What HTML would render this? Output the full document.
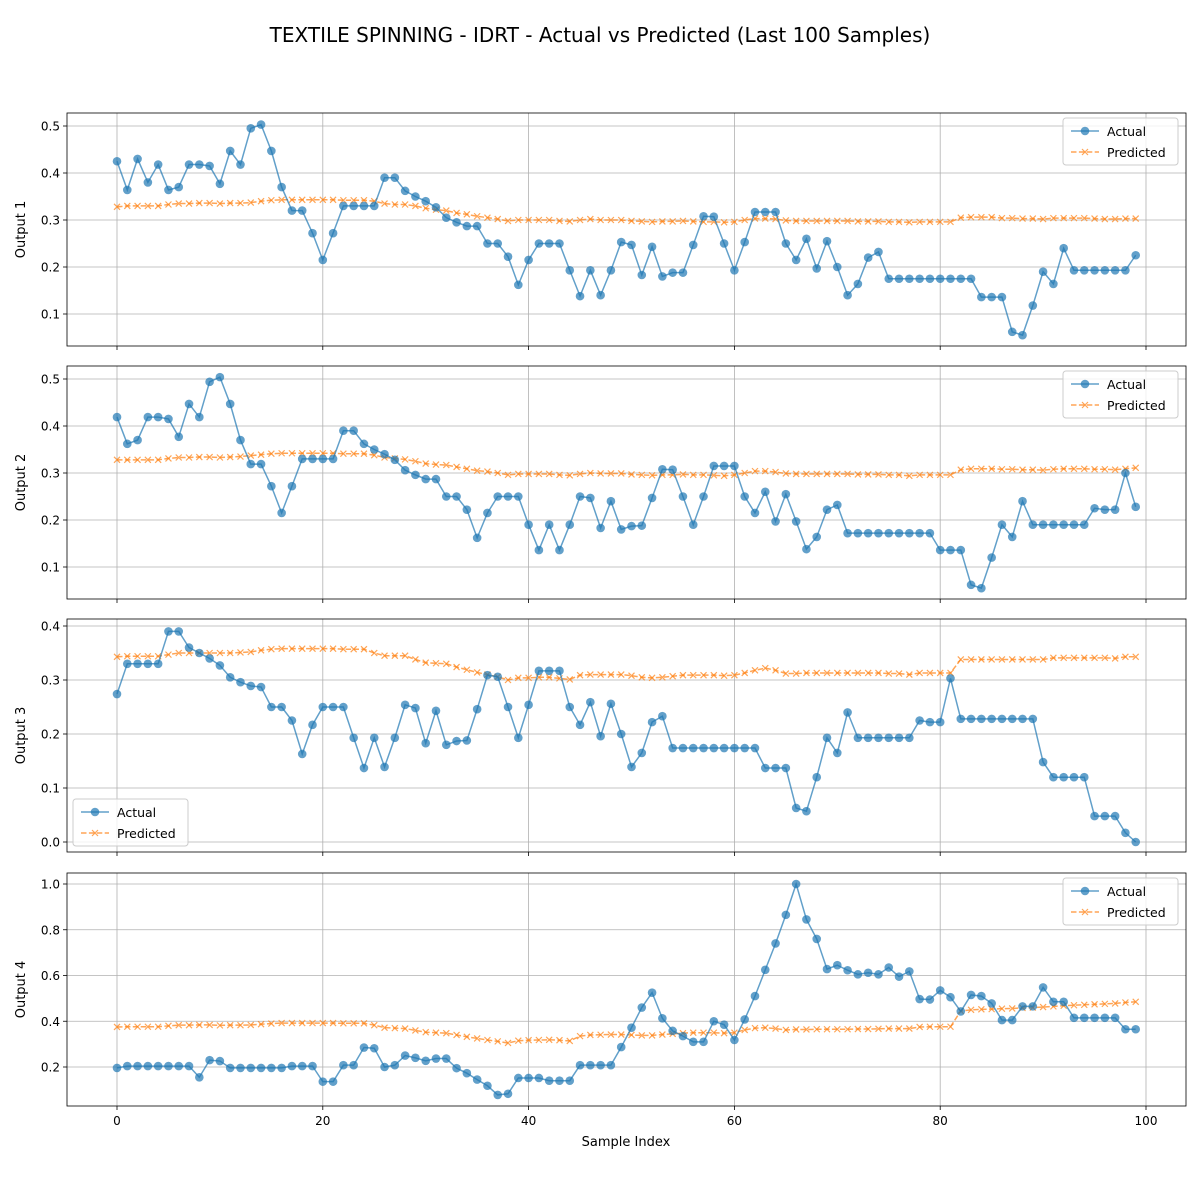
<!DOCTYPE html>
<html><head><meta charset="utf-8">
<style>
body{margin:0;background:#fff;}
svg{display:block;font-family:"DejaVu Sans","Liberation Sans",sans-serif;}
</style></head>
<body>
<svg id="fig" width="1200" height="1200" viewBox="0 0 1200 1200" xmlns="http://www.w3.org/2000/svg">
<rect width="1200" height="1200" fill="#fff"/>
<text x="600" y="42" text-anchor="middle" font-size="20" fill="#000">TEXTILE SPINNING - IDRT - Actual vs Predicted (Last 100 Samples)</text>
<text x="626" y="1146" text-anchor="middle" font-size="13" fill="#000">Sample Index</text>
</svg>
<script>
const xTicks = [0,20,40,60,80,100];
const a1 = [.425,.364,.43,.38,.418,.364,.37,.418,.418,.415,.377,.447,.418,.495,.503,.447,.37,.32,.32,.272,.215,.272,.33,.33,.33,.33,.39,.39,.362,.35,.34,.327,.305,.295,.287,.287,.25,.25,.222,.162,.215,.25,.25,.25,.193,.138,.193,.14,.193,.253,.247,.183,.243,.18,.188,.188,.247,.308,.307,.25,.193,.253,.317,.317,.317,.25,.215,.26,.197,.255,.2,.14,.164,.22,.232,.175,.175,.175,.175,.175,.175,.175,.175,.175,.136,.136,.136,.062,.055,.118,.19,.164,.24,.193,.193,.193,.193,.193,.193,.225];
const p1 = [.328,.33,.33,.33,.33,.333,.335,.335,.336,.336,.335,.336,.336,.337,.34,.342,.343,.343,.343,.343,.343,.343,.342,.342,.342,.34,.335,.333,.333,.33,.325,.322,.32,.315,.312,.308,.305,.302,.298,.3,.3,.3,.3,.298,.297,.3,.302,.3,.3,.3,.298,.297,.296,.297,.297,.298,.297,.296,.296,.295,.296,.3,.303,.303,.302,.299,.298,.298,.298,.298,.298,.298,.297,.297,.297,.296,.296,.295,.296,.296,.296,.296,.305,.306,.306,.306,.304,.304,.303,.303,.302,.304,.304,.304,.304,.303,.302,.302,.303,.303];
const a2 = [.419,.362,.37,.419,.419,.415,.377,.447,.419,.494,.504,.447,.37,.319,.319,.272,.215,.272,.33,.33,.33,.33,.39,.39,.362,.35,.34,.328,.306,.296,.287,.287,.25,.25,.222,.162,.215,.25,.25,.25,.19,.136,.19,.136,.19,.25,.247,.183,.24,.18,.187,.188,.247,.308,.307,.25,.19,.25,.315,.315,.315,.25,.215,.26,.197,.255,.197,.138,.164,.222,.232,.172,.172,.172,.172,.172,.172,.172,.172,.172,.136,.136,.136,.062,.055,.12,.19,.164,.24,.19,.19,.19,.19,.19,.19,.225,.222,.222,.3,.228];
const p2 = [.328,.328,.328,.328,.328,.331,.333,.333,.334,.334,.333,.334,.335,.337,.339,.341,.342,.342,.342,.342,.342,.342,.341,.341,.341,.338,.333,.331,.329,.325,.32,.318,.317,.313,.309,.305,.303,.3,.296,.298,.298,.298,.298,.296,.295,.298,.3,.299,.299,.299,.297,.296,.295,.296,.296,.297,.296,.296,.295,.294,.296,.3,.304,.304,.302,.299,.298,.298,.298,.298,.298,.298,.297,.297,.297,.296,.296,.294,.296,.296,.296,.296,.307,.309,.309,.309,.308,.308,.307,.307,.306,.308,.309,.309,.309,.308,.308,.307,.309,.311];
const a3 = [.274,.33,.33,.33,.33,.39,.39,.36,.35,.34,.327,.305,.296,.289,.287,.25,.25,.225,.163,.217,.25,.25,.25,.193,.137,.193,.139,.193,.254,.248,.183,.243,.18,.187,.188,.246,.309,.306,.25,.193,.254,.317,.317,.317,.25,.217,.259,.196,.256,.2,.139,.165,.222,.233,.174,.174,.174,.174,.174,.174,.174,.174,.174,.137,.137,.137,.063,.057,.12,.193,.165,.24,.193,.193,.193,.193,.193,.193,.225,.222,.222,.303,.228,.228,.228,.228,.228,.228,.228,.228,.148,.12,.12,.12,.12,.048,.048,.048,.017,0];
const p3 = [.343,.344,.344,.344,.344,.347,.35,.35,.35,.35,.35,.35,.351,.352,.355,.357,.358,.358,.358,.358,.358,.358,.357,.357,.357,.35,.345,.345,.345,.338,.332,.331,.33,.324,.319,.314,.31,.306,.3,.304,.304,.305,.305,.303,.301,.309,.31,.31,.31,.31,.308,.305,.304,.305,.307,.309,.309,.309,.309,.308,.309,.313,.318,.322,.318,.312,.312,.313,.313,.313,.313,.313,.313,.313,.313,.312,.312,.31,.313,.313,.313,.313,.338,.338,.338,.338,.338,.338,.338,.338,.338,.341,.341,.341,.341,.341,.341,.34,.343,.343];
const a4 = [.196,.204,.204,.204,.204,.204,.204,.204,.155,.23,.226,.196,.196,.196,.196,.196,.196,.204,.204,.204,.136,.136,.208,.208,.285,.282,.2,.208,.25,.24,.227,.237,.237,.195,.173,.145,.118,.078,.083,.152,.152,.152,.14,.14,.14,.208,.208,.208,.208,.287,.372,.46,.525,.413,.358,.335,.31,.31,.4,.385,.318,.408,.51,.625,.74,.865,1.0,.845,.76,.628,.645,.623,.605,.612,.605,.635,.595,.618,.497,.495,.535,.505,.443,.515,.51,.478,.405,.405,.465,.465,.548,.485,.485,.415,.415,.415,.415,.415,.365,.365];
const p4 = [.375,.376,.376,.376,.376,.38,.383,.383,.384,.384,.382,.383,.383,.384,.387,.39,.392,.392,.392,.392,.392,.392,.391,.391,.391,.383,.372,.37,.368,.36,.352,.35,.348,.34,.332,.325,.318,.312,.305,.315,.317,.318,.319,.317,.314,.335,.34,.341,.342,.342,.34,.338,.338,.342,.345,.348,.35,.35,.35,.348,.35,.362,.37,.372,.368,.362,.364,.364,.365,.365,.365,.365,.366,.366,.367,.368,.368,.368,.375,.376,.376,.376,.445,.45,.452,.453,.455,.456,.458,.46,.462,.465,.468,.47,.472,.474,.476,.478,.482,.485];
const yTicks1 = [0.1,0.2,0.3,0.4,0.5];
const yTicks2 = [0.1,0.2,0.3,0.4,0.5];
const yTicks3 = [0.0,0.1,0.2,0.3,0.4];
const yTicks4 = [0.2,0.4,0.6,0.8,1.0];
const yLabels1 = ["0.1","0.2","0.3","0.4","0.5"];
const yLabels3 = ["0.0","0.1","0.2","0.3","0.4"];
const yLabels4 = ["0.2","0.4","0.6","0.8","1.0"];

const NS="http://www.w3.org/2000/svg";
const svg=document.getElementById('fig');
function mk(tag,attrs,parent){const e=document.createElementNS(NS,tag);for(const k in attrs)e.setAttribute(k,attrs[k]);(parent||svg).appendChild(e);return e;}
const L=67,R=1186;
const xS=v=>117+v*10.29;
const panels=[
 {top:113,bot:346,v0:0.5,y0:126,v1:0.1,y1:314,a:a1,p:p1,ticks:yTicks1,labels:yLabels1,name:"Output 1",leg:"ur"},
 {top:366,bot:599,v0:0.5,y0:379,v1:0.1,y1:567,a:a2,p:p2,ticks:yTicks2,labels:yLabels1,name:"Output 2",leg:"ur"},
 {top:619,bot:852,v0:0.4,y0:626,v1:0.0,y1:842,a:a3,p:p3,ticks:yTicks3,labels:yLabels3,name:"Output 3",leg:"ll"},
 {top:873,bot:1106,v0:1.0,y0:884,v1:0.2,y1:1067,a:a4,p:p4,ticks:yTicks4,labels:yLabels4,name:"Output 4",leg:"ur"}
];
panels.forEach((P,pi)=>{
 const yS=v=>P.y0+(P.v0-v)*(P.y1-P.y0)/(P.v0-P.v1);
 const g=mk('g',{});
 
 
 xTicks.forEach(t=>{const x=xS(t);if(x<L||x>R)return;
  const l=mk('line',{x1:x,x2:x,y1:P.top,y2:P.bot,stroke:'#b0b0b0','stroke-width':0.8},g);
  
  const tk=mk('line',{x1:x,x2:x,y1:P.bot,y2:P.bot+4,stroke:'#000','stroke-width':0.8},g);
  
  if(pi===3){const tx=mk('text',{x:x,y:P.bot+19,'text-anchor':'middle','font-size':12},g);tx.textContent=String(t);
   }
 });
 P.ticks.forEach((t,i)=>{const y=yS(t);
  const l=mk('line',{x1:L,x2:R,y1:y,y2:y,stroke:'#b0b0b0','stroke-width':0.8},g);
  
  const tk=mk('line',{x1:L-4,x2:L,y1:y,y2:y,stroke:'#000','stroke-width':0.8},g);
  
  const tx=mk('text',{x:L-7,y:y+4.5,'text-anchor':'end','font-size':12},g);tx.textContent=P.labels[i];
  
 });
 const yl=mk('text',{x:0,y:0,'text-anchor':'middle','font-size':13,transform:`translate(25,${(P.top+P.bot)/2}) rotate(-90)`},g);
 yl.textContent=P.name;
 
 const pp=mk('polyline',{points:P.p.map((v,i)=>xS(i)+','+yS(v)).join(' '),fill:'none',stroke:'#ff7f0e','stroke-opacity':0.7,'stroke-width':1.5,'stroke-dasharray':'5.5,2.4'},g);
 
 P.p.forEach((v,i)=>{const x=xS(i),y=yS(v),s=3;
  const m=mk('path',{d:`M${x-s},${y-s}L${x+s},${y+s}M${x-s},${y+s}L${x+s},${y-s}`,stroke:'#ff7f0e','stroke-opacity':0.7,'stroke-width':1.2},g);
  });
 const ap=mk('polyline',{points:P.a.map((v,i)=>xS(i)+','+yS(v)).join(' '),fill:'none',stroke:'#1f77b4','stroke-opacity':0.7,'stroke-width':1.5},g);
 
 P.a.forEach((v,i)=>{
  const c=mk('circle',{cx:xS(i),cy:yS(v),r:4.3,fill:'#1f77b4','fill-opacity':0.7},g);
  });
 const fr=mk('rect',{x:L,y:P.top,width:R-L,height:P.bot-P.top,fill:'none',stroke:'#000','stroke-width':0.8},g);
 
 const lx=P.leg==='ur'?1063:73, ly=P.leg==='ur'?P.top+5:799;
 const lg=mk('g',{},g);
 
 mk('rect',{x:lx,y:ly,width:115,height:47,rx:3,fill:'#fff','fill-opacity':0.8,stroke:'#ccc'},lg);
 const e1=mk('g',{},lg);
 
 mk('line',{x1:lx+8,x2:lx+36,y1:ly+13,y2:ly+13,stroke:'#1f77b4','stroke-opacity':0.7,'stroke-width':1.5},e1);
 mk('circle',{cx:lx+22,cy:ly+13,r:4.3,fill:'#1f77b4','fill-opacity':0.7},e1);
 const t1=mk('text',{x:lx+44,y:ly+18,'font-size':12.5},e1);t1.textContent='Actual';
 const e2=mk('g',{},lg);
 
 mk('line',{x1:lx+8,x2:lx+36,y1:ly+34,y2:ly+34,stroke:'#ff7f0e','stroke-opacity':0.7,'stroke-width':1.5,'stroke-dasharray':'5.5,2.4'},e2);
 mk('path',{d:`M${lx+19},${ly+31}L${lx+25},${ly+37}M${lx+19},${ly+37}L${lx+25},${ly+31}`,stroke:'#ff7f0e','stroke-opacity':0.7,'stroke-width':1.2},e2);
 const t2=mk('text',{x:lx+44,y:ly+39,'font-size':12.5},e2);t2.textContent='Predicted';
});
</script>
</body></html>
